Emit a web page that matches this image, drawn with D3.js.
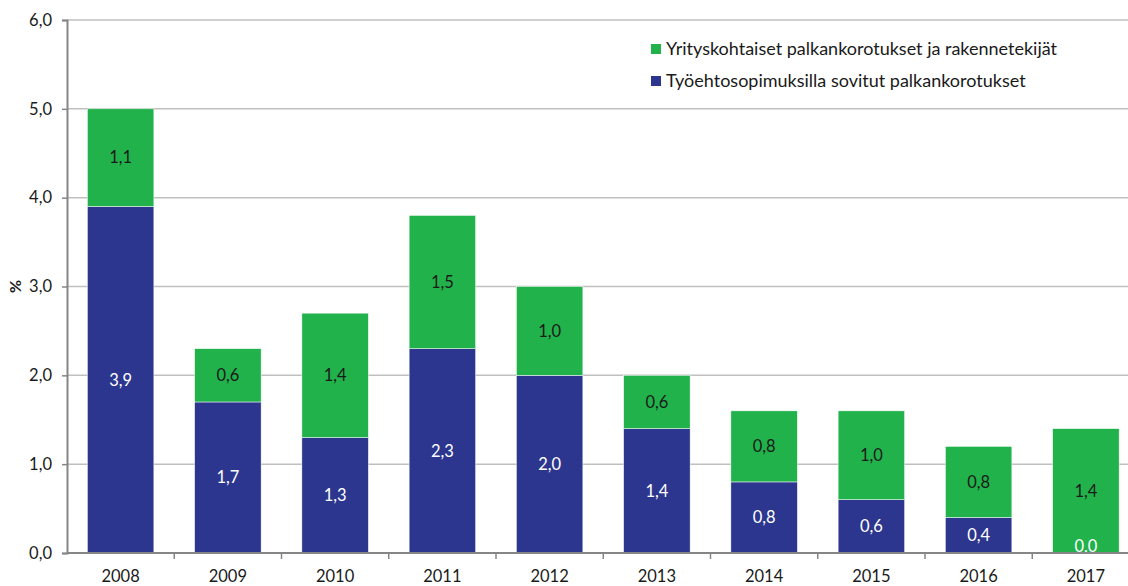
<!DOCTYPE html>
<html><head><meta charset="utf-8">
<script src="https://cdn.jsdelivr.net/npm/d3@7"></script>
<style>body{margin:0;background:#fff}svg{display:block;font-family:Lato,"Open Sans",sans-serif}</style>
</head><body><svg id="c" width="1128" height="586"></svg>
<script>
const years = ["2008","2009","2010","2011","2012","2013","2014","2015","2016","2017"];
const sovitut = [3.9,1.7,1.3,2.3,2.0,1.4,0.8,0.6,0.4,0.0];
const yrityskohtaiset = [1.1,0.6,1.4,1.5,1.0,0.6,0.8,1.0,0.8,1.4];
const yTicks = [0,1,2,3,4,5,6];
const seriesNames = ["Yrityskohtaiset palkankorotukset ja rakennetekijät","Työehtosopimuksilla sovitut palkankorotukset"];
const colors = {green:"#21b24b", blue:"#2c368e"};
const fmt = v => v.toFixed(1).replace(".", ",");

(function(){
const svg = d3.select("#c");
const mLeft = 67, mTop = 20, mBottom = 553;
const x = d3.scaleBand().domain(years).range([mLeft, mLeft + 1072.5]).paddingInner(0.38).paddingOuter(0.19);
const y = d3.scaleLinear().domain([0,6]).range([mBottom, mTop]);

svg.append("g").selectAll("line").data(yTicks.filter(t=>t>0)).join("line")
  .attr("x1", mLeft).attr("x2", 1128).attr("y1", d=>y(d)).attr("y2", d=>y(d))
  .attr("stroke", "#c0c0c0").attr("stroke-width", 1.5);

const g = svg.append("g");
years.forEach((yr,i)=>{
  const b = sovitut[i], gr = yrityskohtaiset[i];
  g.append("rect").attr("x", x(yr)).attr("width", x.bandwidth())
    .attr("y", y(b)).attr("height", y(0)-y(b)).attr("fill", colors.blue)
    .attr("stroke","#fff").attr("stroke-width",0.5);
  g.append("rect").attr("x", x(yr)).attr("width", x.bandwidth())
    .attr("y", y(b+gr)).attr("height", y(b)-y(b+gr)).attr("fill", colors.green)
    .attr("stroke","#fff").attr("stroke-width",0.5);
  const cx = x(yr) + x.bandwidth()/2;
  const by = Math.min((y(0)+y(b))/2, y(0)-7);
  g.append("text").attr("x", cx).attr("y", by).attr("dy","0.35em").attr("text-anchor","middle")
    .attr("font-size", 16.5).attr("fill","#fff").text(fmt(b));
  g.append("text").attr("x", cx).attr("y", (y(b)+y(b+gr))/2).attr("dy","0.35em").attr("text-anchor","middle")
    .attr("font-size", 16.5).attr("fill","#1a1a1a").text(fmt(gr));
});

const ya = svg.append("g").attr("transform",`translate(${mLeft},0)`)
  .call(d3.axisLeft(y).tickValues(yTicks).tickFormat(fmt).tickSize(5).tickPadding(10));
ya.select(".domain").attr("stroke","#868686").attr("stroke-width",2);
ya.selectAll(".tick line").attr("stroke","#868686").attr("stroke-width",1.5);
ya.selectAll("text").attr("font-size",16.5).attr("fill","#1a1a1a").attr("font-family","Lato,'Open Sans',sans-serif");

const xa = svg.append("g").attr("transform",`translate(0,${mBottom})`);
xa.append("line").attr("x1", mLeft).attr("x2", 1128).attr("stroke","#868686").attr("stroke-width",2);
const boundaries = years.slice(1).map(yr => x(yr) - x.step()*x.paddingInner()/2);
xa.selectAll(".tk").data(boundaries).join("line").attr("class","tk")
  .attr("x1",d=>d).attr("x2",d=>d).attr("y1",0).attr("y2",6).attr("stroke","#868686").attr("stroke-width",1.5);
xa.selectAll(".lbl").data(years).join("text").attr("class","lbl")
  .attr("x", d=>x(d)+x.bandwidth()/2).attr("y", 29).attr("text-anchor","middle")
  .attr("font-size",16.5).attr("fill","#1a1a1a").text(d=>d);

svg.append("text").attr("transform",`translate(21,${y(3)}) rotate(-90)`).attr("text-anchor","middle")
  .attr("font-size",16).attr("font-weight","bold").attr("fill","#1a1a1a").text("%");

const lg = svg.append("g").attr("transform","translate(651,44)");
[[seriesNames[0],colors.green],[seriesNames[1],colors.blue]].forEach((d,i)=>{
  lg.append("rect").attr("x",0).attr("y",i*32).attr("width",10).attr("height",10).attr("fill",d[1]);
  lg.append("text").attr("x",15).attr("y",i*32+5).attr("dy","0.35em").attr("font-size",18).attr("fill","#1a1a1a").text(d[0]);
});
})();
</script></body></html>
